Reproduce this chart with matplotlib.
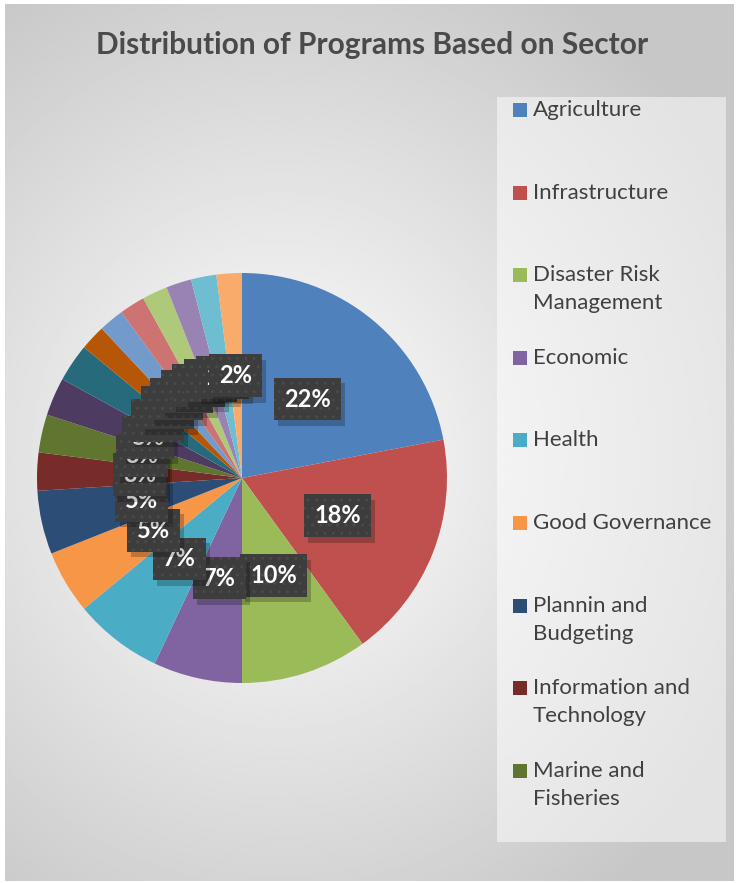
import numpy as np
import matplotlib.pyplot as plt
from matplotlib.patches import Rectangle

# sector shares in percent (only the first nine are named in the legend)
sectors = ["Agriculture", "Infrastructure", "Disaster Risk\nManagement", "Economic",
           "Health", "Good Governance", "Plannin and\nBudgeting",
           "Information and\nTechnology", "Marine and\nFisheries",
           "Sector 10", "Sector 11", "Sector 12", "Sector 13", "Sector 14",
           "Sector 15", "Sector 16", "Sector 17", "Sector 18"]
shares = [22, 18, 10, 7, 7, 5, 5, 3, 3, 3, 3, 2, 2, 2, 2, 2, 2, 2]
colors = ["#4F81BD", "#C0504D", "#9BBB59", "#8064A2", "#4BACC6", "#F79646",
          "#2C4D75", "#772C2A", "#5F7530", "#4D3B62", "#276A7C", "#B65708",
          "#729ACA", "#CD7371", "#AFC97A", "#9983B5", "#6FBDD1", "#F9AB6B"]
n_legend = 9

W, H = 738, 883
plt.rcParams['font.family'] = ['Lato', 'DejaVu Sans']
plt.rcParams['hatch.color'] = '#4b4b4b'
plt.rcParams['hatch.linewidth'] = 0.9
fig = plt.figure(figsize=(W / 100, H / 100), dpi=100, facecolor="white")

def fx(x):
    return x / W

def fy(y):
    return 1 - y / H

# chart area with radial gradient
bg = fig.add_axes([fx(5), fy(881), fx(734) - fx(5), fy(4) - fy(881)], zorder=0)
xx, yy = np.meshgrid(np.linspace(5, 734, 300), np.linspace(4, 881, 360))
r = np.sqrt(((xx - 280) / 520) ** 2 + ((yy - 460) / 560) ** 2)
t = np.clip(r, 0, 1)
grey = 1.0 - t * (1.0 - 0.78)
bg.imshow(grey, cmap="gray", vmin=0, vmax=1, aspect="auto",
          extent=[0, 1, 0, 1], origin="upper", interpolation="bilinear")
bg.axis("off")

# pie
cx, cy, rad = 242, 478, 205
ax = fig.add_axes([fx(cx - rad), fy(cy + rad), 2 * rad / W, 2 * rad / H], zorder=2)
wedges, texts, autotexts = ax.pie(
    shares, colors=colors, startangle=90, counterclock=False, radius=1,
    autopct=lambda p: f"{p:.0f}%", pctdistance=0.5,
    wedgeprops=dict(linewidth=0))
ax.set_xlim(-1, 1)
ax.set_ylim(-1, 1)
ax.set_aspect("equal")

box = "square,pad=0.42"
for i, at in enumerate(autotexts):
    at.set_fontsize(17)
    at.set_fontweight("bold")
    at.set_color("white")
    at.set_zorder(10 + 2 * i + 1)
    at.set_bbox(dict(boxstyle=box, fc="#3d3d3d", ec="#4b4b4b", lw=0, hatch=".."))
    sx, sy = at.get_position()
    ax.annotate(at.get_text(), (sx, sy), xytext=(3, -4), textcoords="offset points",
                ha="center", va="center", fontsize=17, fontweight="bold",
                color="none", zorder=10 + 2 * i,
                bbox=dict(boxstyle=box, fc="black", ec="none", alpha=0.22))

# title
fig.text(fx(372), fy(45), "Distribution of Programs Based on Sector",
         ha="center", va="center", fontsize=21.5, fontweight="bold", color="#4a4a4a")

# legend
fig.patches.append(Rectangle((fx(497), fy(842)), fx(726) - fx(497), fy(97) - fy(842),
                             transform=fig.transFigure, fc="white", ec="none",
                             alpha=0.5, zorder=1))
for i in range(n_legend):
    y0 = 110 + 82.6 * i
    fig.patches.append(Rectangle((fx(513), fy(y0 + 7)), 14 / W, 14 / H,
                                 transform=fig.transFigure,
                                 fc=wedges[i].get_facecolor(), ec="none", zorder=3))
    for j, line in enumerate(sectors[i].split("\n")):
        fig.text(fx(533), fy(y0 + 28 * j), line, ha="left", va="center",
                 fontsize=16, color="#404040", zorder=3)

fig.savefig("out.png", dpi=100, facecolor="white")
